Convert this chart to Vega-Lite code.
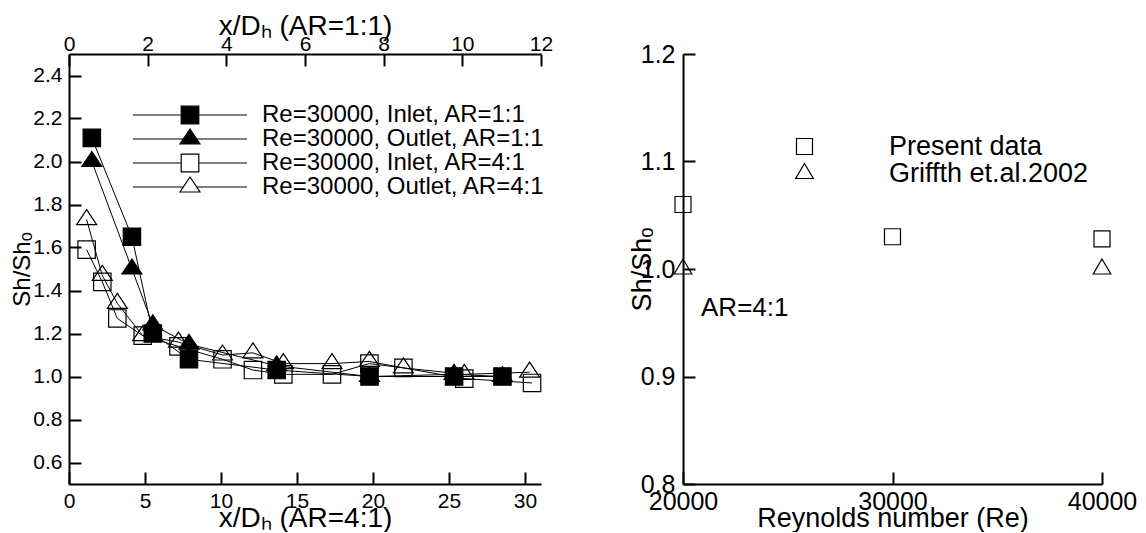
{
  "$schema": "https://vega.github.io/schema/vega-lite/v6.json",
  "padding": {"left": 10, "top": 12, "right": 0, "bottom": 0},
  "spacing": 75,
  "background": "white",
  "config": {
    "font": "Liberation Sans",
    "view": {"stroke": null},
    "axis": {
      "domainColor": "black",
      "domainWidth": 2,
      "tickColor": "black",
      "tickWidth": 2,
      "tickSize": -12,
      "grid": false,
      "labelColor": "black",
      "labelFont": "Liberation Sans",
      "labelFlush": false,
      "labelOverlap": false,
      "labelBound": false,
      "titleColor": "black",
      "titleFont": "Liberation Sans",
      "titleFontWeight": "normal"
    },
    "legend": {"labelFont": "Liberation Sans", "labelColor": "black", "labelLimit": 0, "padding": 0}
  },
  "resolve": {
    "scale": {"shape": "independent", "fill": "independent"},
    "legend": {"shape": "independent", "fill": "independent"}
  },
  "datasets": {
    "slots": [
      {"series": "Re=30000, Inlet, AR=1:1", "ar": "1:1", "xd": 0.58, "ratio": 2.11},
      {"series": "Re=30000, Inlet, AR=1:1", "ar": "1:1", "xd": 1.6, "ratio": 1.65},
      {"series": "Re=30000, Inlet, AR=1:1", "ar": "1:1", "xd": 2.13, "ratio": 1.2},
      {"series": "Re=30000, Inlet, AR=1:1", "ar": "1:1", "xd": 3.05, "ratio": 1.08},
      {"series": "Re=30000, Inlet, AR=1:1", "ar": "1:1", "xd": 5.28, "ratio": 1.03},
      {"series": "Re=30000, Inlet, AR=1:1", "ar": "1:1", "xd": 7.64, "ratio": 1.0},
      {"series": "Re=30000, Inlet, AR=1:1", "ar": "1:1", "xd": 9.79, "ratio": 1.0},
      {"series": "Re=30000, Inlet, AR=1:1", "ar": "1:1", "xd": 11.02, "ratio": 1.0},
      {"series": "Re=30000, Outlet, AR=1:1", "ar": "1:1", "xd": 0.58, "ratio": 2.0},
      {"series": "Re=30000, Outlet, AR=1:1", "ar": "1:1", "xd": 1.6, "ratio": 1.5},
      {"series": "Re=30000, Outlet, AR=1:1", "ar": "1:1", "xd": 2.13, "ratio": 1.24},
      {"series": "Re=30000, Outlet, AR=1:1", "ar": "1:1", "xd": 3.05, "ratio": 1.15},
      {"series": "Re=30000, Outlet, AR=1:1", "ar": "1:1", "xd": 5.28, "ratio": 1.05},
      {"series": "Re=30000, Outlet, AR=1:1", "ar": "1:1", "xd": 7.64, "ratio": 1.0},
      {"series": "Re=30000, Outlet, AR=1:1", "ar": "1:1", "xd": 9.79, "ratio": 1.01},
      {"series": "Re=30000, Outlet, AR=1:1", "ar": "1:1", "xd": 11.02, "ratio": 1.0},
      {"series": "Re=30000, Inlet, AR=4:1", "ar": "4:1", "xd": 1.16, "ratio": 1.59},
      {"series": "Re=30000, Inlet, AR=4:1", "ar": "4:1", "xd": 2.19, "ratio": 1.44},
      {"series": "Re=30000, Inlet, AR=4:1", "ar": "4:1", "xd": 3.18, "ratio": 1.27},
      {"series": "Re=30000, Inlet, AR=4:1", "ar": "4:1", "xd": 4.85, "ratio": 1.19},
      {"series": "Re=30000, Inlet, AR=4:1", "ar": "4:1", "xd": 7.2, "ratio": 1.14},
      {"series": "Re=30000, Inlet, AR=4:1", "ar": "4:1", "xd": 10.1, "ratio": 1.08},
      {"series": "Re=30000, Inlet, AR=4:1", "ar": "4:1", "xd": 12.1, "ratio": 1.03},
      {"series": "Re=30000, Inlet, AR=4:1", "ar": "4:1", "xd": 14.1, "ratio": 1.01},
      {"series": "Re=30000, Inlet, AR=4:1", "ar": "4:1", "xd": 17.3, "ratio": 1.01},
      {"series": "Re=30000, Inlet, AR=4:1", "ar": "4:1", "xd": 19.76, "ratio": 1.06},
      {"series": "Re=30000, Inlet, AR=4:1", "ar": "4:1", "xd": 22.0, "ratio": 1.04},
      {"series": "Re=30000, Inlet, AR=4:1", "ar": "4:1", "xd": 26.0, "ratio": 0.99},
      {"series": "Re=30000, Inlet, AR=4:1", "ar": "4:1", "xd": 30.46, "ratio": 0.97},
      {"series": "Re=30000, Outlet, AR=4:1", "ar": "4:1", "xd": 1.16, "ratio": 1.73},
      {"series": "Re=30000, Outlet, AR=4:1", "ar": "4:1", "xd": 2.19, "ratio": 1.47},
      {"series": "Re=30000, Outlet, AR=4:1", "ar": "4:1", "xd": 3.18, "ratio": 1.34},
      {"series": "Re=30000, Outlet, AR=4:1", "ar": "4:1", "xd": 4.85, "ratio": 1.19},
      {"series": "Re=30000, Outlet, AR=4:1", "ar": "4:1", "xd": 7.2, "ratio": 1.16},
      {"series": "Re=30000, Outlet, AR=4:1", "ar": "4:1", "xd": 10.1, "ratio": 1.1},
      {"series": "Re=30000, Outlet, AR=4:1", "ar": "4:1", "xd": 12.1, "ratio": 1.11},
      {"series": "Re=30000, Outlet, AR=4:1", "ar": "4:1", "xd": 14.1, "ratio": 1.06},
      {"series": "Re=30000, Outlet, AR=4:1", "ar": "4:1", "xd": 17.3, "ratio": 1.06},
      {"series": "Re=30000, Outlet, AR=4:1", "ar": "4:1", "xd": 19.76, "ratio": 1.07},
      {"series": "Re=30000, Outlet, AR=4:1", "ar": "4:1", "xd": 22.0, "ratio": 1.04},
      {"series": "Re=30000, Outlet, AR=4:1", "ar": "4:1", "xd": 26.0, "ratio": 1.01},
      {"series": "Re=30000, Outlet, AR=4:1", "ar": "4:1", "xd": 30.3, "ratio": 1.02}
    ],
    "slotKeys": [
      {"entry": "Re=30000, Inlet, AR=1:1"},
      {"entry": "Re=30000, Outlet, AR=1:1"},
      {"entry": "Re=30000, Inlet, AR=4:1"},
      {"entry": "Re=30000, Outlet, AR=4:1"}
    ],
    "reynolds": [
      {"source": "Present data", "Re": 20000, "ratio": 1.06},
      {"source": "Present data", "Re": 30000, "ratio": 1.03},
      {"source": "Present data", "Re": 40000, "ratio": 1.028},
      {"source": "Griffth et.al.2002", "Re": 20000, "ratio": 1.0},
      {"source": "Griffth et.al.2002", "Re": 40000, "ratio": 1.0}
    ]
  },
  "hconcat": [
    {
      "width": 472,
      "height": 430,
      "layer": [
        {
          "data": {"name": "slots"},
          "transform": [{"filter": "datum.ar == '4:1'"}],
          "encoding": {
            "x": {
              "field": "xd",
              "type": "quantitative",
              "scale": {"domain": [0, 31.05], "nice": false, "zero": false},
              "axis": {
                "orient": "bottom",
                "values": [0, 5, 10, 15, 20, 25, 30],
                "format": "d",
                "labelFontSize": 21,
                "labelPadding": 18,
                "title": "x/Dₕ (AR=4:1)",
                "titleFontSize": 28,
                "titleAngle": 0,
                "titleAlign": "center",
                "titleBaseline": "alphabetic",
                "titleX": 236,
                "titleY": 42
              }
            },
            "y": {
              "field": "ratio",
              "type": "quantitative",
              "scale": {"domain": [0.5, 2.5], "nice": false, "zero": false},
              "axis": {
                "values": [0.6, 0.8, 1.0, 1.2, 1.4, 1.6, 1.8, 2.0, 2.2, 2.4],
                "format": ".1f",
                "labelFontSize": 21,
                "labelPadding": 19,
                "title": "Sh/Shₒ",
                "titleFontSize": 24,
                "titleAngle": 270,
                "titleAlign": "center",
                "titleBaseline": "alphabetic",
                "titleX": -40,
                "titleY": 215
              }
            }
          },
          "layer": [
            {
              "mark": {"type": "line", "color": "black", "strokeWidth": 1},
              "encoding": {"detail": {"field": "series"}}
            },
            {
              "mark": {"type": "point", "size": 400, "stroke": "black", "strokeWidth": 1.2, "opacity": 1},
              "encoding": {
                "shape": {
                  "field": "series",
                  "type": "nominal",
                  "scale": {
                    "domain": ["Re=30000, Inlet, AR=4:1", "Re=30000, Outlet, AR=4:1"],
                    "range": ["M-0.87,-0.87H0.87V0.87H-0.87Z", "M0,-1L1,0.5H-1Z"]
                  },
                  "legend": null
                }
              }
            }
          ]
        },
        {
          "data": {"name": "slots"},
          "transform": [{"filter": "datum.ar == '1:1'"}],
          "encoding": {
            "x": {
              "field": "xd",
              "type": "quantitative",
              "scale": {"domain": [0, 12], "nice": false, "zero": false},
              "axis": {
                "orient": "top",
                "values": [0, 2, 4, 6, 8, 10, 12],
                "format": "d",
                "labelFontSize": 21,
                "labelPadding": 12,
                "title": "x/Dₕ (AR=1:1)",
                "titleFontSize": 28,
                "titleAngle": 0,
                "titleAlign": "center",
                "titleBaseline": "alphabetic",
                "titleX": 236,
                "titleY": -20
              }
            },
            "y": {
              "field": "ratio",
              "type": "quantitative",
              "scale": {"domain": [0.5, 2.5], "nice": false, "zero": false},
              "axis": {
                "values": [0.6, 0.8, 1.0, 1.2, 1.4, 1.6, 1.8, 2.0, 2.2, 2.4],
                "format": ".1f",
                "labelFontSize": 21,
                "labelPadding": 19,
                "title": "Sh/Shₒ",
                "titleFontSize": 24,
                "titleAngle": 270,
                "titleAlign": "center",
                "titleBaseline": "alphabetic",
                "titleX": -40,
                "titleY": 215
              }
            }
          },
          "layer": [
            {
              "mark": {"type": "line", "color": "black", "strokeWidth": 1},
              "encoding": {"detail": {"field": "series"}}
            },
            {
              "mark": {"type": "point", "size": 400, "stroke": "black", "strokeWidth": 1.2, "fill": "black", "filled": true, "opacity": 1},
              "encoding": {
                "shape": {
                  "field": "series",
                  "type": "nominal",
                  "scale": {
                    "domain": ["Re=30000, Inlet, AR=1:1", "Re=30000, Outlet, AR=1:1"],
                    "range": ["M-0.87,-0.87H0.87V0.87H-0.87Z", "M0,-1L1,0.5H-1Z"]
                  },
                  "legend": null
                }
              }
            }
          ]
        },
        {
          "data": {"name": "slotKeys"},
          "mark": {"type": "point", "size": 0, "stroke": "black", "strokeWidth": 1.2, "opacity": 1},
          "encoding": {
            "shape": {
              "field": "entry",
              "type": "nominal",
              "scale": {
                "domain": ["Re=30000, Inlet, AR=1:1", "Re=30000, Outlet, AR=1:1", "Re=30000, Inlet, AR=4:1", "Re=30000, Outlet, AR=4:1"],
                "range": [
                  "M-5.7,0H5.7M-0.88,-0.88H0.88V0.88H-0.88Z",
                  "M-5.7,0H5.7M0,-1L1,0.5H-1Z",
                  "M-5.7,0H-0.88M0.88,0H5.7M-0.88,-0.88H0.88V0.88H-0.88Z",
                  "M-5.7,0H-0.67M0.67,0H5.7M0,-1L1,0.5H-1Z"
                ]
              },
              "legend": {
                "orient": "none",
                "legendX": 109,
                "legendY": 49,
                "title": null,
                "labelFontSize": 24,
                "labelOffset": 60,
                "symbolSize": 400,
                "symbolStrokeWidth": 1.2,
                "rowPadding": -4
              }
            },
            "fill": {
              "field": "entry",
              "type": "nominal",
              "scale": {
                "domain": ["Re=30000, Inlet, AR=1:1", "Re=30000, Outlet, AR=1:1", "Re=30000, Inlet, AR=4:1", "Re=30000, Outlet, AR=4:1"],
                "range": ["black", "black", "white", "white"]
              },
              "legend": null
            }
          }
        }
      ],
      "resolve": {
        "scale": {"x": "independent", "shape": "independent", "fill": "independent"},
        "axis": {"x": "independent"},
        "legend": {"shape": "independent", "fill": "independent"}
      }
    },
    {
      "width": 419,
      "height": 430,
      "layer": [
        {
          "data": {"name": "reynolds"},
          "mark": {"type": "point", "size": 400, "stroke": "black", "strokeWidth": 1.2, "fill": "transparent", "opacity": 1},
          "encoding": {
            "x": {
              "field": "Re",
              "type": "quantitative",
              "scale": {"domain": [20000, 40000], "nice": false, "zero": false},
              "axis": {
                "values": [20000, 30000, 40000],
                "format": "d",
                "labelFontSize": 25,
                "labelPadding": 17,
                "title": "Reynolds number (Re)",
                "titleFontSize": 27,
                "titleAngle": 0,
                "titleAlign": "center",
                "titleBaseline": "alphabetic",
                "titleX": 209.5,
                "titleY": 42
              }
            },
            "y": {
              "field": "ratio",
              "type": "quantitative",
              "scale": {"domain": [0.8, 1.2], "nice": false, "zero": false},
              "axis": {
                "values": [0.8, 0.9, 1.0, 1.1, 1.2],
                "format": ".1f",
                "labelFontSize": 25,
                "labelPadding": 20,
                "title": "Sh/Shₒ",
                "titleFontSize": 27,
                "titleAngle": 270,
                "titleAlign": "center",
                "titleBaseline": "alphabetic",
                "titleX": -33,
                "titleY": 215
              }
            },
            "shape": {
              "field": "source",
              "type": "nominal",
              "scale": {
                "domain": ["Present data", "Griffth et.al.2002"],
                "range": ["M-0.8,-0.8H0.8V0.8H-0.8Z", "M0,-1L0.88,0.5H-0.88Z"]
              },
              "legend": {
                "orient": "none",
                "legendX": 108,
                "legendY": 79,
                "title": null,
                "labelFontSize": 27,
                "labelOffset": 71,
                "symbolSize": 400,
                "symbolFillColor": "transparent",
                "symbolStrokeColor": "black",
                "symbolStrokeWidth": 1.2,
                "rowPadding": -1
              }
            }
          }
        },
        {
          "data": {"values": [{}]},
          "mark": {"type": "text", "align": "left", "baseline": "middle", "fontSize": 26, "font": "Liberation Sans", "color": "black"},
          "encoding": {
            "x": {"datum": 20860, "type": "quantitative"},
            "y": {"datum": 0.964, "type": "quantitative"},
            "text": {"value": "AR=4:1"}
          }
        }
      ]
    }
  ]
}
